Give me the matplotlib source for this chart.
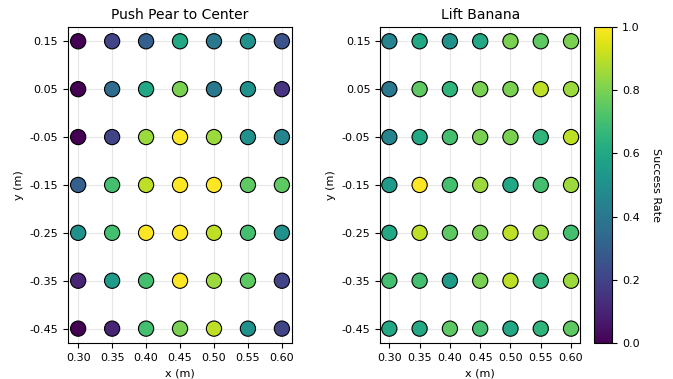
import numpy as np
import matplotlib
matplotlib.use("Agg")
import matplotlib.pyplot as plt

x_vals = [0.30, 0.35, 0.40, 0.45, 0.50, 0.55, 0.60]
y_vals = [0.15, 0.05, -0.05, -0.15, -0.25, -0.35, -0.45]

# rows follow y_vals (top to bottom), columns follow x_vals
push_pear = [
    [0.00, 0.20, 0.30, 0.60, 0.40, 0.50, 0.25],
    [0.00, 0.35, 0.60, 0.80, 0.40, 0.50, 0.15],
    [0.00, 0.20, 0.85, 1.00, 0.85, 0.50, 0.45],
    [0.30, 0.70, 0.90, 1.00, 1.00, 0.75, 0.75],
    [0.50, 0.70, 1.00, 1.00, 0.90, 0.70, 0.50],
    [0.10, 0.55, 0.70, 1.00, 0.85, 0.75, 0.20],
    [0.00, 0.10, 0.70, 0.80, 0.90, 0.50, 0.20],
]
lift_banana = [
    [0.45, 0.60, 0.50, 0.60, 0.80, 0.75, 0.80],
    [0.40, 0.75, 0.65, 0.80, 0.80, 0.90, 0.85],
    [0.45, 0.60, 0.70, 0.80, 0.80, 0.65, 0.90],
    [0.55, 1.00, 0.70, 0.85, 0.60, 0.70, 0.85],
    [0.60, 0.90, 0.75, 0.80, 0.90, 0.85, 0.70],
    [0.70, 0.70, 0.55, 0.80, 0.90, 0.65, 0.85],
    [0.60, 0.60, 0.75, 0.70, 0.60, 0.65, 0.75],
]
titles = ["Push Pear to Center", "Lift Banana"]

fig = plt.figure(figsize=(6.73, 3.79), dpi=100)
ax1 = fig.add_axes([0.101, 0.095, 0.333, 0.834])
ax2 = fig.add_axes([0.565, 0.095, 0.297, 0.834])
cax = fig.add_axes([0.883, 0.095, 0.027, 0.834])

XX, YY = np.meshgrid(x_vals, y_vals)
sc = None
for ax, data, title in zip([ax1, ax2], [push_pear, lift_banana], titles):
    sc = ax.scatter(XX.ravel(), YY.ravel(), c=np.array(data).ravel(), cmap="viridis",
                    vmin=0, vmax=1, s=120, edgecolors="black", linewidths=0.8, zorder=3)
    ax.set_title(title, fontsize=10)
    ax.set_xlabel("x (m)", fontsize=8)
    ax.set_ylabel("y (m)", fontsize=8)
    ax.set_xticks(x_vals)
    ax.set_yticks(y_vals)
    ax.set_xticklabels([f"{v:.2f}" for v in x_vals], fontsize=8)
    ax.set_yticklabels([f"{v:.2f}" for v in y_vals], fontsize=8)
    ax.grid(True, alpha=0.3, zorder=0)
    ax.set_axisbelow(True)

cb = fig.colorbar(sc, cax=cax)
cb.set_label("Success Rate", rotation=270, labelpad=15, fontsize=8)
cb.ax.tick_params(labelsize=8)

fig.savefig("out.png", dpi=100)
